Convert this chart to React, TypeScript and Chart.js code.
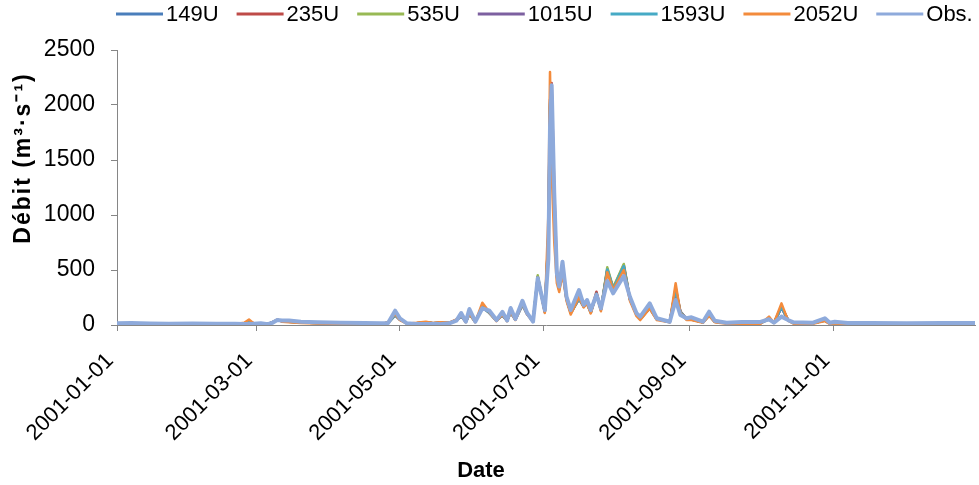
import React, { useEffect, useRef } from "react";
import { Chart, registerables } from "chart.js";

Chart.register(...registerables);

const seriesNames = ["149U", "235U", "535U", "1015U", "1593U", "2052U", "Obs."];
const seriesColors = ["#4A7EBB", "#BE4B48", "#98B954", "#7D60A0", "#46AAC5", "#F38B3C", "#8EAADB"];

// days since 2001-01-01
const days = [
  0, 6, 14, 22, 32, 42, 50, 54, 56, 58,
  61, 64, 66, 68, 70, 73, 78, 85, 95, 105,
  112, 115, 118, 120, 123, 127, 131, 134, 137, 141,
  144, 146, 148, 149.5, 152, 155, 158, 161, 163.5, 165.5,
  167, 169, 172, 174, 176.5, 178.5, 181.5, 183, 183.7, 184.4,
  185.5, 186.6, 187.6, 189, 190.7, 192.5, 196, 198, 199.4, 201,
  203.4, 205.3, 208, 210.5, 215, 217.6, 220.4, 222, 226, 229,
  234.5, 237, 239, 241.6, 243.7, 248.6, 251.2, 253.6, 258.6, 265,
  273, 276.6, 278.7, 281.9, 284.7, 287, 295, 300.3, 302.4, 304.5,
  310, 320, 335, 350, 364,
];

const tickDays = [0, 59, 120, 181, 243, 304];
const tickLabels = ["2001-01-01", "2001-03-01", "2001-05-01", "2001-07-01", "2001-09-01", "2001-11-01"];
const yTicks = [0, 500, 1000, 1500, 2000, 2500];

const q149U = [
  8, 8, 7, 6, 6, 6, 8, 15, 30, 15,
  10, 10, 25, 45, 35, 30, 22, 18, 15, 12,
  12, 20, 90, 50, 15, 15, 25, 15, 20, 20,
  45, 80, 30, 100, 30, 165, 110, 40, 90, 40,
  115, 50, 185, 100, 35, 435, 120, 800, 2000, 2150,
  1150, 460, 330, 500, 240, 110, 240, 170, 200, 115,
  285, 140, 500, 330, 535, 235, 95, 55, 155, 55,
  28, 320, 120, 55, 50, 25, 90, 30, 18, 18,
  16, 55, 20, 160, 45, 18, 15, 40, 15, 20,
  10, 10, 8, 8, 8,
];
const q235U = [
  9, 9, 8, 7, 7, 7, 9, 16, 32, 16,
  11, 10, 26, 47, 36, 31, 23, 19, 15, 13,
  12, 21, 92, 52, 16, 15, 26, 16, 20, 21,
  46, 82, 31, 102, 31, 168, 112, 42, 92, 41,
  118, 52, 190, 104, 36, 440, 125, 780, 1950, 2200,
  1250, 500, 350, 510, 250, 115, 245, 178, 210, 120,
  303, 145, 510, 335, 545, 245, 98, 58, 160, 57,
  29, 340, 125, 57, 52, 26, 92, 31, 19, 18,
  17, 58, 21, 170, 46, 19, 15, 42, 16, 21,
  11, 10, 9, 8, 8,
];
const q535U = [
  8, 8, 7, 6, 6, 6, 8, 15, 28, 15,
  10, 10, 24, 44, 35, 30, 22, 18, 15, 12,
  12, 20, 88, 50, 15, 14, 24, 15, 19, 20,
  44, 80, 30, 98, 30, 162, 108, 40, 88, 40,
  112, 50, 182, 100, 35, 452, 122, 790, 1980, 2120,
  1120, 450, 320, 495, 235, 108, 235, 168, 198, 112,
  280, 138, 525, 340, 555, 240, 96, 56, 152, 54,
  28, 330, 118, 54, 50, 25, 88, 30, 18, 18,
  16, 54, 20, 165, 44, 18, 15, 40, 15, 20,
  10, 10, 8, 8, 8,
];
const q1015U = [
  8, 8, 7, 6, 6, 6, 8, 14, 28, 14,
  10, 9, 24, 44, 34, 29, 22, 18, 14, 12,
  11, 20, 88, 48, 15, 14, 24, 15, 19, 20,
  44, 78, 30, 98, 30, 160, 108, 40, 88, 40,
  112, 50, 180, 98, 34, 430, 118, 820, 2050, 2100,
  1100, 440, 320, 490, 235, 108, 235, 166, 196, 112,
  280, 136, 495, 325, 530, 232, 94, 54, 152, 54,
  27, 310, 118, 54, 50, 25, 88, 30, 18, 17,
  16, 54, 20, 158, 44, 18, 15, 40, 15, 20,
  10, 10, 8, 8, 8,
];
const q1593U = [
  8, 8, 7, 6, 6, 6, 8, 15, 29, 15,
  10, 10, 25, 45, 35, 30, 22, 18, 15, 12,
  12, 20, 90, 50, 15, 15, 25, 15, 20, 20,
  45, 80, 30, 100, 30, 165, 110, 40, 90, 40,
  115, 50, 185, 100, 35, 435, 120, 810, 2020, 2140,
  1140, 455, 328, 498, 238, 110, 238, 170, 200, 115,
  285, 140, 505, 330, 535, 236, 95, 55, 155, 55,
  28, 320, 120, 55, 50, 25, 90, 30, 18, 18,
  16, 55, 20, 162, 45, 18, 15, 40, 15, 20,
  10, 10, 8, 8, 8,
];
const q2052U = [
  5, 5, 4, 4, 4, 4, 6, 20, 50, 15,
  8, 6, 25, 50, 30, 25, 18, 14, 10, 8,
  8, 25, 100, 45, 12, 20, 30, 18, 25, 22,
  50, 90, 25, 105, 25, 203, 115, 35, 95, 35,
  120, 45, 195, 95, 30, 430, 110, 1000, 2300, 1400,
  750, 380, 300, 470, 220, 95, 255, 160, 195, 105,
  280, 125, 480, 320, 500, 220, 80, 45, 150, 45,
  25, 379, 110, 45, 45, 20, 85, 25, 12, 12,
  10, 76, 18, 197, 40, 12, 10, 35, 10, 15,
  6, 6, 5, 5, 5,
];
const qObs = [
  15, 18, 14, 12, 14, 12, 12, 10, 10, 12,
  15, 8, 20, 45, 42, 40, 30, 25, 20, 18,
  15, 18, 130, 60, 15, 10, 8, 8, 8, 15,
  40, 109, 30, 145, 30, 152, 130, 45, 120, 40,
  155, 55, 220, 110, 30, 425, 136, 600, 1800, 2180,
  1200, 470, 350, 575, 257, 136, 318, 182, 227, 136,
  273, 152, 400, 288, 445, 257, 106, 76, 197, 61,
  30, 227, 91, 61, 70, 30, 121, 39, 21, 28,
  28, 52, 21, 76, 45, 24, 20, 61, 20, 30,
  18, 18, 15, 18, 18,
];

const seriesValues = [q149U, q235U, q535U, q1015U, q1593U, q2052U, qObs];

const FONT = '"Liberation Sans", Arial, sans-serif';

const decorPlugin = {
  id: "decor",
  afterDraw(chart: any) {
    const ctx = chart.ctx as CanvasRenderingContext2D;
    ctx.save();
    // legend
    ctx.font = `22px ${FONT}`;
    ctx.textBaseline = "middle";
    ctx.textAlign = "left";
    let x = 116;
    const y = 14;
    chart.data.datasets.forEach((ds: any) => {
      ctx.strokeStyle = ds.borderColor;
      ctx.lineWidth = 3;
      ctx.lineCap = "butt";
      ctx.beginPath();
      ctx.moveTo(x, y);
      ctx.lineTo(x + 47, y);
      ctx.stroke();
      ctx.fillStyle = "#000";
      ctx.fillText(ds.label, x + 50, y + 1);
      x += 50 + ctx.measureText(ds.label).width + 18;
    });
    // axis titles
    ctx.font = `bold 22px ${FONT}`;
    ctx.fillStyle = "#000";
    ctx.textAlign = "center";
    ctx.textBaseline = "middle";
    ctx.fillText("Date", 481, 471);
    ctx.translate(24, 158);
    ctx.rotate(-Math.PI / 2);
    ctx.font = `bold 23px ${FONT}`;
    (ctx as any).letterSpacing = "2px";
    ctx.fillText("Débit (m³·s⁻¹)", 0, 0);
    ctx.restore();
  },
};

export default function App() {
  const ref = useRef<HTMLCanvasElement | null>(null);

  useEffect(() => {
    if (!ref.current) return;
    Chart.defaults.font.family = FONT;
    const datasets = seriesNames.map((name, i) => ({
      label: name,
      data: days.map((d, k) => ({ x: d, y: seriesValues[i][k] })),
      borderColor: seriesColors[i],
      backgroundColor: seriesColors[i],
      borderWidth: i === 6 ? 4 : 2.5,
      pointRadius: 0,
      tension: 0,
      borderJoinStyle: "round" as const,
      borderCapStyle: "round" as const,
      order: 6 - i,
      fill: false,
    }));
    const axisGray = "#868686";
    const chart = new Chart(ref.current, {
      type: "line",
      data: { datasets },
      options: {
        animation: false,
        responsive: false,
        maintainAspectRatio: false,
        devicePixelRatio: 1,
        layout: { padding: { top: 50, right: 4, left: 0, bottom: 0 } },
        plugins: { legend: { display: false }, tooltip: { enabled: false } },
        scales: {
          x: {
            type: "linear",
            min: 0,
            max: 364,
            afterBuildTicks: (scale: any) => {
              scale.ticks = tickDays.map((v) => ({ value: v }));
            },
            afterFit: (scale: any) => {
              scale.height = 160;
            },
            grid: { drawOnChartArea: false, drawTicks: true, tickLength: 6, color: axisGray },
            border: { color: axisGray, width: 1 },
            ticks: {
              autoSkip: false,
              minRotation: 45,
              maxRotation: 45,
              padding: 17,
              labelOffset: -7,
              color: "#000",
              font: { size: 22, family: FONT },
              callback: (value: any) => {
                const i = tickDays.indexOf(Number(value));
                return i >= 0 ? tickLabels[i] : "";
              },
            },
          },
          y: {
            min: 0,
            max: 2500,
            afterBuildTicks: (scale: any) => {
              scale.ticks = yTicks.map((v) => ({ value: v }));
            },
            afterFit: (scale: any) => {
              scale.width = 117;
            },
            grid: { drawOnChartArea: false, drawTicks: true, tickLength: 6, color: axisGray },
            border: { color: axisGray, width: 1 },
            ticks: {
              padding: 16,
              color: "#000",
              font: { size: 23, family: FONT },
              callback: (value: any) => String(value),
            },
          },
        },
      },
      plugins: [decorPlugin],
    });
    return () => chart.destroy();
  }, []);

  return (
    <div style={{ position: "absolute", left: 0, top: 0, width: 979, height: 485, background: "#fff" }}>
      <canvas ref={ref} width={979} height={485} style={{ display: "block" }} />
    </div>
  );
}
